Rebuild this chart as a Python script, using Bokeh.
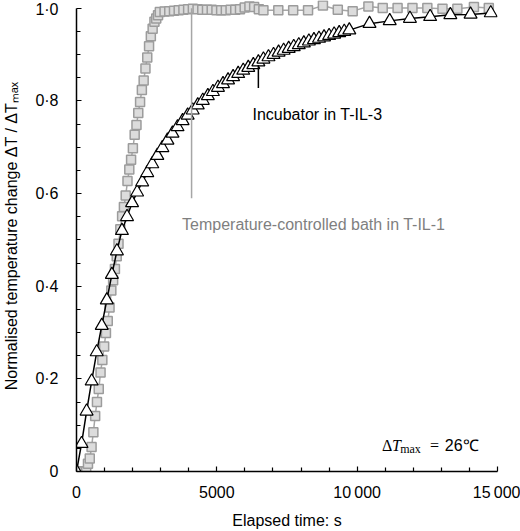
from bokeh.plotting import figure
from bokeh.models import Range1d, FixedTicker, Label
from bokeh.embed import file_html
from bokeh.resources import INLINE

# ---------------- data ----------------
# Temperature-controlled bath in T-IL-1 (grey squares)
bath_t = [0, 69, 138, 207, 276, 345, 409, 473, 537, 601, 665, 729, 793, 857, 921,
          985, 1049, 1113, 1177, 1241, 1305, 1369, 1433, 1497, 1561, 1625, 1689,
          1753, 1817, 1881, 1945, 2009, 2073, 2137, 2201, 2265, 2329, 2393, 2457,
          2521, 2585, 2649, 2713, 2777, 2841, 2905, 2969,
          3137, 3305, 3473, 3641, 3809, 3977, 4145, 4313, 4481, 4649, 4817, 4985,
          5153, 5321, 5489, 5657, 5825, 5993, 6161, 6329, 6497,
          6660, 7190, 7720, 8250, 8780, 9310, 9840, 10400, 10910, 11440, 11970,
          12500, 13040, 13570, 14160, 14690]
bath_v = [0, 0, 0, 0, 0, 0.0, 0.017, 0.028, 0.053, 0.085, 0.12, 0.15, 0.178, 0.214,
          0.241, 0.27, 0.299, 0.325, 0.354, 0.391, 0.413, 0.437, 0.465, 0.492,
          0.523, 0.551, 0.571, 0.596, 0.627, 0.652, 0.673, 0.698, 0.727, 0.748,
          0.774, 0.798, 0.824, 0.844, 0.87, 0.894, 0.918, 0.94, 0.956, 0.971,
          0.978, 0.985, 0.992,
          0.993, 0.994, 0.995, 0.996, 0.997, 0.998, 0.999, 0.998, 0.997, 0.997,
          0.997, 0.996, 0.996, 0.996, 0.997, 0.997, 0.998, 1.002, 1.004, 1.003,
          0.998,
          0.996, 0.996, 0.996, 0.996, 1.006, 0.997, 0.994, 1.004, 1.001, 1.001,
          1.001, 1.001, 0.999, 0.999, 1.003, 1.001]

# Incubator in T-IL-3 (open triangles)
incub_t = [0, 180, 360, 540, 720, 900, 1080, 1260, 1440, 1620, 1800, 1980, 2160,
           2340, 2520, 2700, 2880, 3060, 3240, 3420, 3600, 3780, 3960, 4140, 4320,
           4500, 4680, 4860, 5040, 5220, 5400, 5580, 5760, 5940, 6120, 6300, 6480,
           6660, 6840, 7020, 7200, 7380, 7560, 7740, 7920, 8100, 8280, 8460, 8640,
           8820, 9000, 9180, 9360, 9540, 9720,
           10440, 11160, 11880, 12600, 13320, 14040, 14760]
incub_v = [0, 0.06, 0.13, 0.195, 0.258, 0.315, 0.37, 0.425, 0.476, 0.52, 0.55,
           0.58, 0.603, 0.625, 0.645, 0.664, 0.682, 0.699, 0.715, 0.73, 0.744,
           0.757, 0.769, 0.78, 0.791, 0.801, 0.811, 0.82, 0.829, 0.837, 0.845,
           0.852, 0.859, 0.866, 0.872, 0.878, 0.884, 0.89, 0.895, 0.9, 0.905,
           0.909, 0.913, 0.917, 0.921, 0.925, 0.929, 0.932, 0.935, 0.938, 0.941,
           0.944, 0.947, 0.95, 0.953,
           0.967, 0.973, 0.978, 0.982, 0.986, 0.987, 0.99]

x_ticks = [0, 5000, 10000, 15000]
x_tick_labels = ["0", "5000", "10\u2009000", "15\u2009000"]
x_minor = [1000, 2000, 3000, 4000, 6000, 7000, 8000, 9000, 11000, 12000, 13000, 14000]
y_ticks = [0, 0.2, 0.4, 0.6, 0.8, 1.0]
y_tick_labels = ["0", "0\u00b72", "0\u00b74", "0\u00b76", "0\u00b78", "1\u00b70"]
y_minor = [0.05, 0.1, 0.15, 0.25, 0.3, 0.35, 0.45, 0.5, 0.55, 0.65, 0.7, 0.75,
           0.85, 0.9, 0.95]

# annotation anchors (data coordinates)
bath_ptr_t, bath_ptr_v = [4100, 4100], [1.0, 0.59]
incub_ptr_t, incub_ptr_v = [6480, 6480], [0.877, 0.828]

# ---------------- figure ----------------
SANS = "Liberation Sans"
SERIF = "Liberation Serif"

p = figure(width=520, height=531, output_backend="svg", toolbar_location=None,
           x_range=Range1d(0, 15000), y_range=Range1d(0, 1.017),
           min_border_left=73, min_border_right=23, min_border_top=0,
           min_border_bottom=58)
p.outline_line_color = None
p.grid.visible = False
p.background_fill_color = "white"

# axes
for ax in (p.xaxis[0], p.yaxis[0]):
    ax.axis_line_color = "black"
    ax.axis_line_width = 1.5
    ax.major_tick_in = 5
    ax.major_tick_out = 0
    ax.minor_tick_in = 4
    ax.minor_tick_out = 0
    ax.major_tick_line_color = "black"
    ax.minor_tick_line_color = "black"
    ax.major_tick_line_width = 1.2
    ax.minor_tick_line_width = 1.2
    ax.major_label_text_font = SANS
    ax.major_label_text_font_size = "16px"
    ax.major_label_text_color = "black"
    ax.axis_label_text_font = SANS
    ax.axis_label_text_font_size = "16px"
    ax.axis_label_text_font_style = "normal"
    ax.axis_label_text_color = "black"

p.xaxis.ticker = FixedTicker(ticks=x_ticks, minor_ticks=x_minor)
p.xaxis.major_label_overrides = dict(zip(x_ticks, x_tick_labels))
p.xaxis.major_label_standoff = 12
p.xaxis.axis_label = "Elapsed time: s"
p.xaxis.axis_label_standoff = 8

p.yaxis.ticker = FixedTicker(ticks=y_ticks, minor_ticks=y_minor)
p.yaxis.major_label_overrides = dict(zip(y_ticks, y_tick_labels))
p.yaxis.major_label_standoff = 18
p.yaxis.bounds = (0, 1)
p.yaxis.axis_label = "Normalised temperature change \u0394T / \u0394T\u2098\u2090\u2093"
p.yaxis.axis_label_standoff = 12

# bath series
p.line(bath_t, bath_v, line_color="#A6A6A6", line_width=1.5)
p.scatter(bath_t, bath_v, marker="square", size=9, fill_color="#DCDCDC",
          line_color="#9C9C9C", line_width=1.5)

# incubator series
p.line(incub_t, incub_v, line_color="black", line_width=1.5)
p.scatter(incub_t, incub_v, marker="triangle", size=13, fill_color="white",
          line_color="black", line_width=1.2)

# pointer lines
p.line(bath_ptr_t, bath_ptr_v, line_color="#A6A6A6", line_width=1.5)
p.line(incub_ptr_t, incub_ptr_v, line_color="black", line_width=1.5)

# labels
p.add_layout(Label(x=3760, y=0.533, text="Temperature-controlled bath in T-IL-1",
                   text_font=SANS, text_font_size="16px", text_color="#7F7F7F",
                   text_baseline="alphabetic"))
p.add_layout(Label(x=6270, y=0.771, text="Incubator in T-IL-3",
                   text_font=SANS, text_font_size="16px", text_color="black",
                   text_baseline="alphabetic"))

# Delta T_max = 26 C
p.add_layout(Label(x=10885, y=0.056, text="\u0394", text_font=SERIF,
                   text_font_size="16px", text_color="black", text_baseline="alphabetic"))
p.add_layout(Label(x=11238, y=0.056, text="T", text_font=SERIF,
                   text_font_style="italic",
                   text_font_size="16px", text_color="black", text_baseline="alphabetic"))
p.add_layout(Label(x=11532, y=0.049, text="max", text_font=SERIF,
                   text_font_size="12px", text_color="black", text_baseline="alphabetic"))
p.add_layout(Label(x=12593, y=0.056, text="=", text_font=SERIF,
                   text_font_size="16px", text_color="black", text_baseline="alphabetic"))
p.add_layout(Label(x=13120, y=0.056, text="26\u2103", text_font=SANS,
                   text_font_size="16px", text_color="black", text_baseline="alphabetic"))

open("out.html", "w").write(file_html(p, INLINE))
